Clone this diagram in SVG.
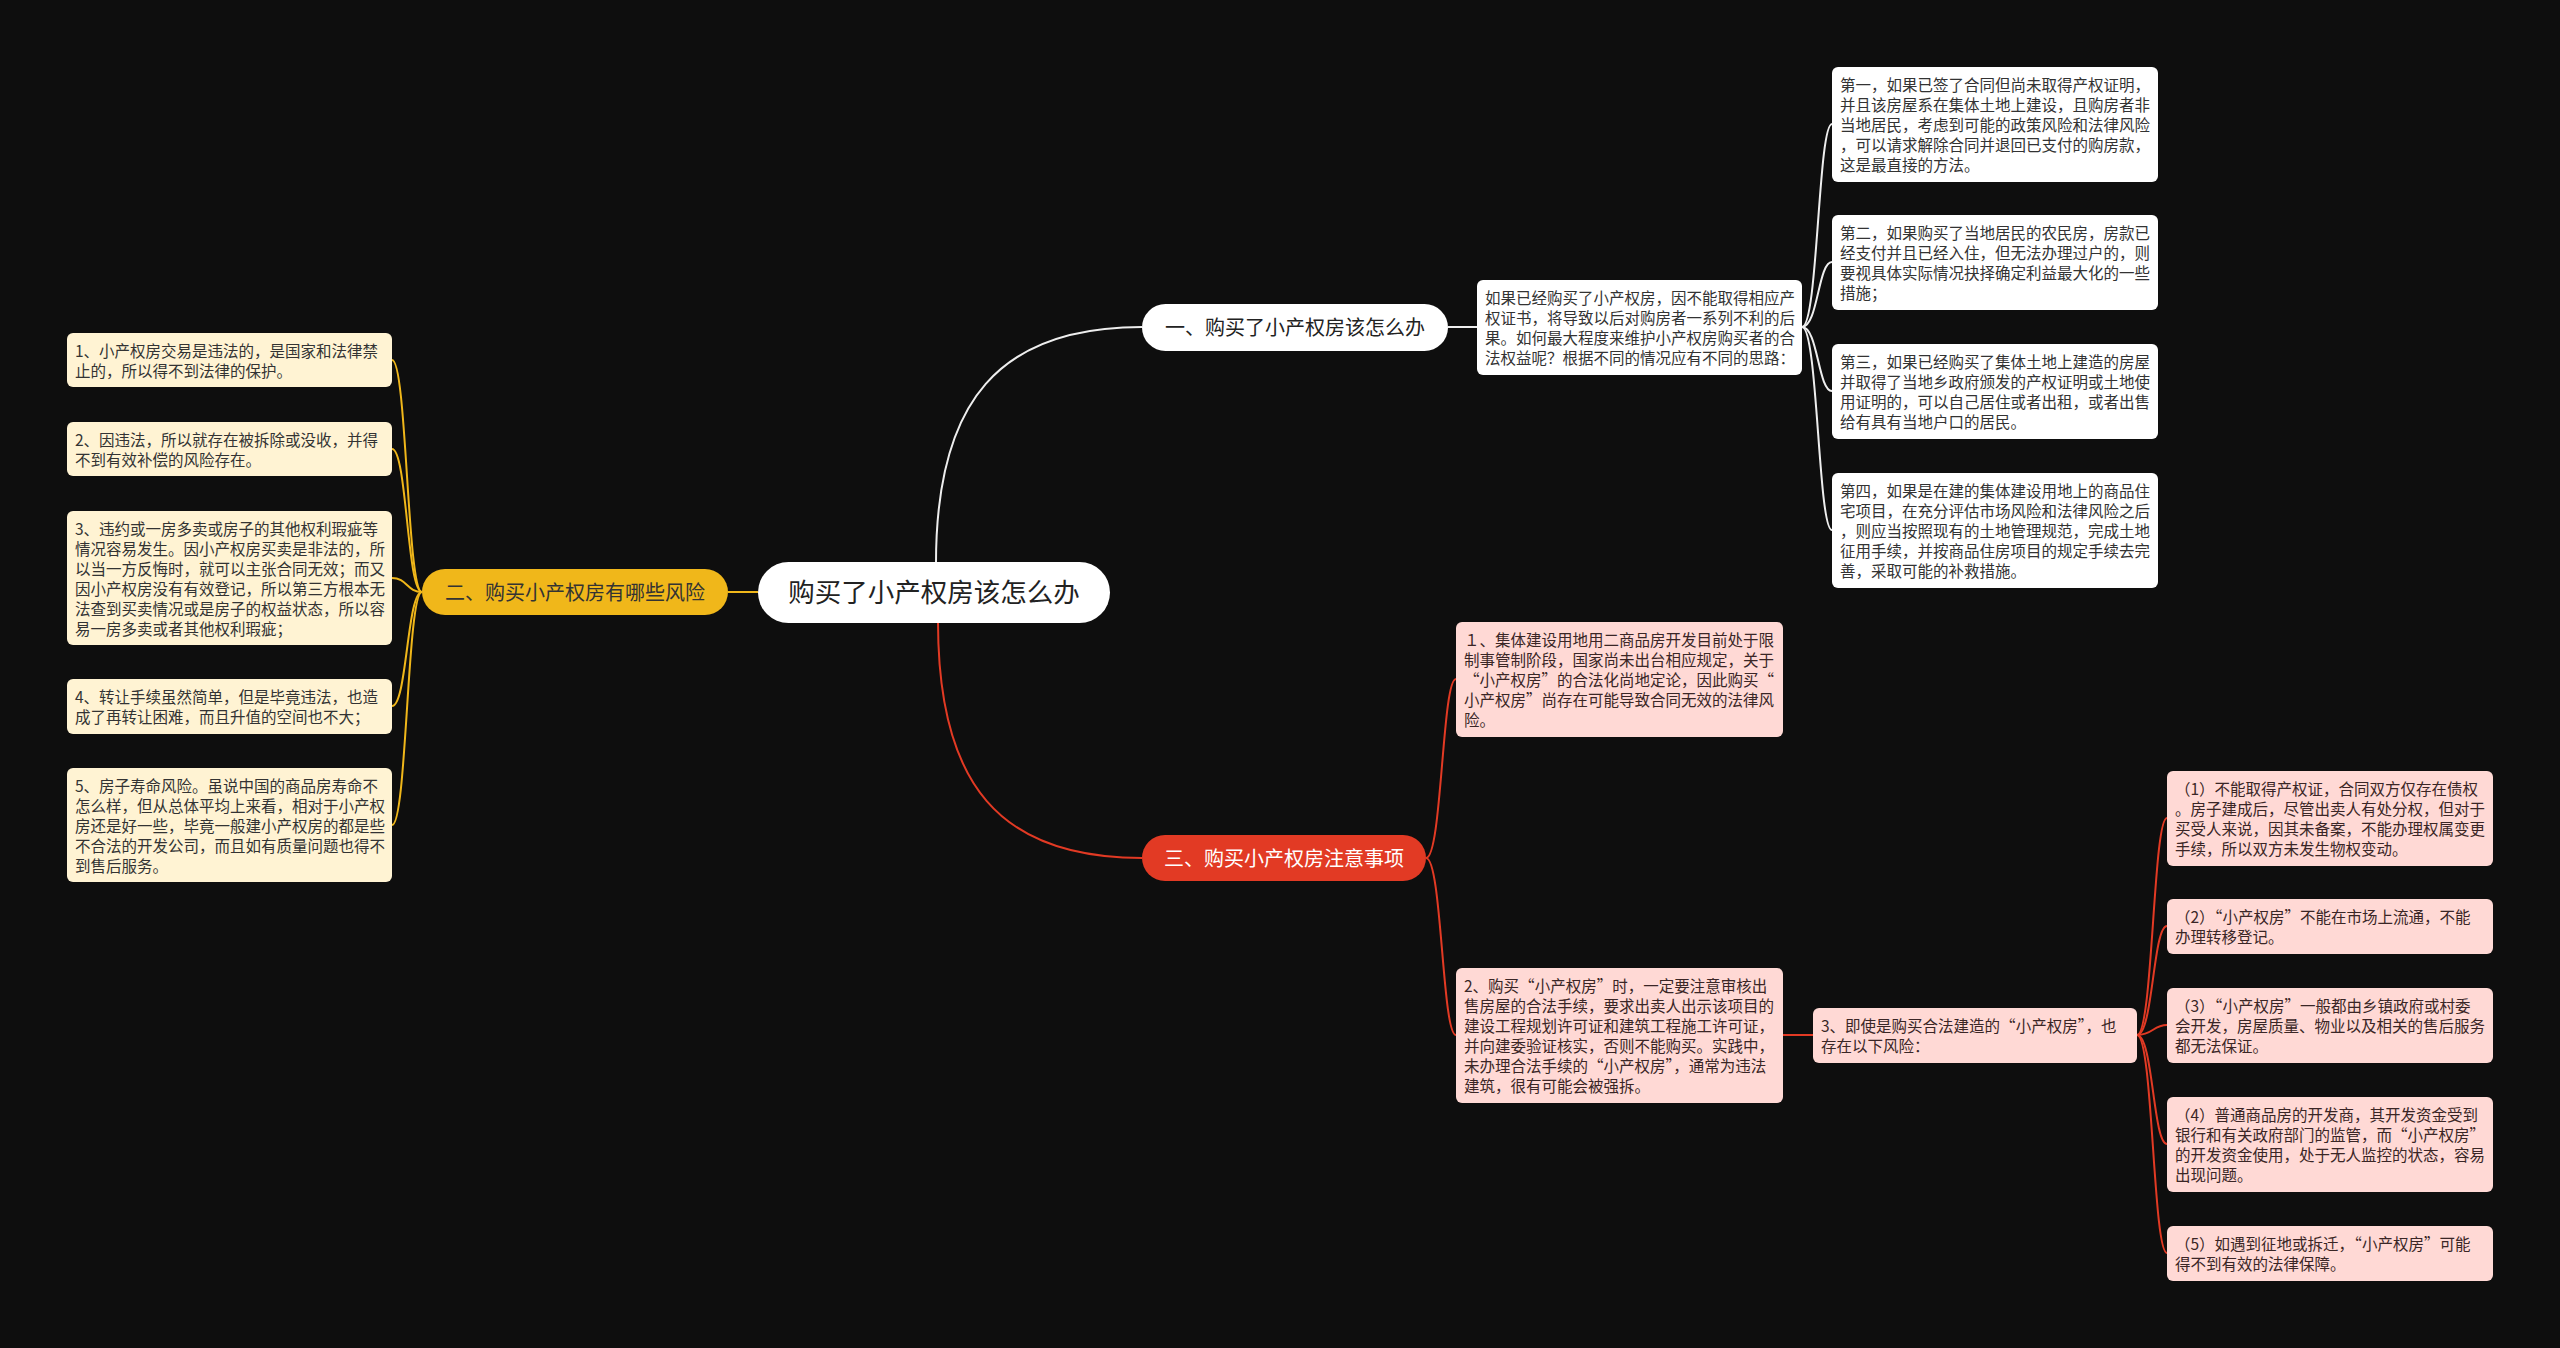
<svg xmlns="http://www.w3.org/2000/svg" width="2560" height="1348" viewBox="0 0 2560 1348" lang="zh-CN">
<style>
text{font-family:"Noto Sans CJK SC","Noto Sans",sans-serif;}
.t{font-size:15.5px;fill:#333333;}
.tp{font-size:15.5px;fill:#3a2626;}
.q{font-feature-settings:"fwid" 1;}
.bw{fill:#ffffff;}
.by{fill:#fff3d3;}
.bp{fill:#ffd9d5;}
.ew{fill:none;stroke:#eeeeee;stroke-width:2;}
.ey{fill:none;stroke:#f0b71a;stroke-width:2;}
.er{fill:none;stroke:#e23a24;stroke-width:2;}
</style>
<rect x="0" y="0" width="2560" height="1348" fill="#0e0e0e"/>
<g id="connectors">
<path class="ew" d="M936 563 C936 400 1000 327 1142 327"/>
<path class="er" d="M938 622 C938 785 1000 858 1142 858"/>
<path class="ey" d="M758 592 L728 592"/>
<path class="ew" d="M1448 327 L1477 327"/>
<path class="ew" d="M1802 327 C1818 327 1818 124 1832 124"/>
<path class="ew" d="M1802 327 C1818 327 1818 262 1832 262"/>
<path class="ew" d="M1802 327 C1818 327 1818 391 1832 391"/>
<path class="ew" d="M1802 327 C1818 327 1818 530 1832 530"/>
<path class="ey" d="M422 592 C407 592 407 360 392 360"/>
<path class="ey" d="M422 592 C407 592 407 449 392 449"/>
<path class="ey" d="M422 592 C407 592 407 578 392 578"/>
<path class="ey" d="M422 592 C407 592 407 706 392 706"/>
<path class="ey" d="M422 592 C407 592 407 825 392 825"/>
<path class="er" d="M1426 858 C1442 858 1442 679 1456 679"/>
<path class="er" d="M1426 858 C1442 858 1442 1035 1456 1035"/>
<path class="er" d="M1783 1035 L1813 1035"/>
<path class="er" d="M2137 1035 C2153 1035 2153 818 2167 818"/>
<path class="er" d="M2137 1035 C2153 1035 2153 926 2167 926"/>
<path class="er" d="M2137 1035 C2153 1035 2153 1025 2167 1025"/>
<path class="er" d="M2137 1035 C2153 1035 2153 1144 2167 1144"/>
<path class="er" d="M2137 1035 C2153 1035 2153 1253 2167 1253"/>
</g>
<g id="root">
<rect x="758" y="562" width="352" height="61" rx="30.5" fill="#ffffff"/>
<text x="934" y="602" font-size="26.5" fill="#222222" text-anchor="middle">购买了小产权房该怎么办</text>
</g>
<g id="branch1">
<rect x="1142" y="304" width="306" height="47" rx="23.5" fill="#ffffff"/>
<text x="1295" y="334.5" font-size="20" fill="#222222" text-anchor="middle">一、购买了小产权房该怎么办</text>
</g>
<g id="branch2">
<rect x="422" y="569" width="306" height="46" rx="23" fill="#f0b71a"/>
<text x="575" y="599.5" font-size="20" fill="#333333" text-anchor="middle">二、购买小产权房有哪些风险</text>
</g>
<g id="branch3">
<rect x="1142" y="835" width="284" height="46" rx="23" fill="#e23a24"/>
<text x="1284" y="865.5" font-size="20" fill="#ffffff" text-anchor="middle">三、购买小产权房注意事项</text>
</g>
<g id="intro">
<rect class="bw" x="1477" y="280" width="325" height="95" rx="6"/>
<text class="t" x="1485" y="304"><tspan x="1485">如果已经购买了小产权房，因不能取得相应产</tspan><tspan x="1485" dy="20">权证书，将导致以后对购房者一系列不利的后</tspan><tspan x="1485" dy="20">果。如何最大程度来维护小产权房购买者的合</tspan><tspan x="1485" dy="20">法权益呢？根据不同的情况应有不同的思路：</tspan></text>
</g>
<g id="w1">
<rect class="bw" x="1832" y="67" width="326" height="115" rx="6"/>
<text class="t" x="1840" y="91"><tspan x="1840">第一，如果已签了合同但尚未取得产权证明，</tspan><tspan x="1840" dy="20">并且该房屋系在集体土地上建设，且购房者非</tspan><tspan x="1840" dy="20">当地居民，考虑到可能的政策风险和法律风险</tspan><tspan x="1840" dy="20">，可以请求解除合同并退回已支付的购房款，</tspan><tspan x="1840" dy="20">这是最直接的方法。</tspan></text>
</g>
<g id="w2">
<rect class="bw" x="1832" y="215" width="326" height="95" rx="6"/>
<text class="t" x="1840" y="239"><tspan x="1840">第二，如果购买了当地居民的农民房，房款已</tspan><tspan x="1840" dy="20">经支付并且已经入住，但无法办理过户的，则</tspan><tspan x="1840" dy="20">要视具体实际情况抉择确定利益最大化的一些</tspan><tspan x="1840" dy="20">措施；</tspan></text>
</g>
<g id="w3">
<rect class="bw" x="1832" y="344" width="326" height="95" rx="6"/>
<text class="t" x="1840" y="368"><tspan x="1840">第三，如果已经购买了集体土地上建造的房屋</tspan><tspan x="1840" dy="20">并取得了当地乡政府颁发的产权证明或土地使</tspan><tspan x="1840" dy="20">用证明的，可以自己居住或者出租，或者出售</tspan><tspan x="1840" dy="20">给有具有当地户口的居民。</tspan></text>
</g>
<g id="w4">
<rect class="bw" x="1832" y="473" width="326" height="115" rx="6"/>
<text class="t" x="1840" y="497"><tspan x="1840">第四，如果是在建的集体建设用地上的商品住</tspan><tspan x="1840" dy="20">宅项目，在充分评估市场风险和法律风险之后</tspan><tspan x="1840" dy="20">，则应当按照现有的土地管理规范，完成土地</tspan><tspan x="1840" dy="20">征用手续，并按商品住房项目的规定手续去完</tspan><tspan x="1840" dy="20">善，采取可能的补救措施。</tspan></text>
</g>
<g id="y1">
<rect class="by" x="67" y="333" width="325" height="54" rx="6"/>
<text class="t" x="75" y="357"><tspan x="75">1、小产权房交易是违法的，是国家和法律禁</tspan><tspan x="75" dy="20">止的，所以得不到法律的保护。</tspan></text>
</g>
<g id="y2">
<rect class="by" x="67" y="422" width="325" height="54" rx="6"/>
<text class="t" x="75" y="446"><tspan x="75">2、因违法，所以就存在被拆除或没收，并得</tspan><tspan x="75" dy="20">不到有效补偿的风险存在。</tspan></text>
</g>
<g id="y3">
<rect class="by" x="67" y="511" width="325" height="134" rx="6"/>
<text class="t" x="75" y="535"><tspan x="75">3、违约或一房多卖或房子的其他权利瑕疵等</tspan><tspan x="75" dy="20">情况容易发生。因小产权房买卖是非法的，所</tspan><tspan x="75" dy="20">以当一方反悔时，就可以主张合同无效；而又</tspan><tspan x="75" dy="20">因小产权房没有有效登记，所以第三方根本无</tspan><tspan x="75" dy="20">法查到买卖情况或是房子的权益状态，所以容</tspan><tspan x="75" dy="20">易一房多卖或者其他权利瑕疵；</tspan></text>
</g>
<g id="y4">
<rect class="by" x="67" y="679" width="325" height="55" rx="6"/>
<text class="t" x="75" y="703"><tspan x="75">4、转让手续虽然简单，但是毕竟违法，也造</tspan><tspan x="75" dy="20">成了再转让困难，而且升值的空间也不大；</tspan></text>
</g>
<g id="y5">
<rect class="by" x="67" y="768" width="325" height="114" rx="6"/>
<text class="t" x="75" y="792"><tspan x="75">5、房子寿命风险。虽说中国的商品房寿命不</tspan><tspan x="75" dy="20">怎么样，但从总体平均上来看，相对于小产权</tspan><tspan x="75" dy="20">房还是好一些，毕竟一般建小产权房的都是些</tspan><tspan x="75" dy="20">不合法的开发公司，而且如有质量问题也得不</tspan><tspan x="75" dy="20">到售后服务。</tspan></text>
</g>
<g id="r1">
<rect class="bp" x="1456" y="622" width="327" height="115" rx="6"/>
<text class="tp q" x="1464" y="646"><tspan x="1464">1、集体建设用地用二商品房开发目前处于限</tspan><tspan x="1464" dy="20">制事管制阶段，国家尚未出台相应规定，关于</tspan><tspan x="1464" dy="20">“小产权房”的合法化尚地定论，因此购买“</tspan><tspan x="1464" dy="20">小产权房”尚存在可能导致合同无效的法律风</tspan><tspan x="1464" dy="20">险。</tspan></text>
</g>
<g id="r2">
<rect class="bp" x="1456" y="968" width="327" height="135" rx="6"/>
<text class="tp" x="1464" y="992"><tspan x="1464">2、购买<tspan class="q">“</tspan>小产权房<tspan class="q">”</tspan>时，一定要注意审核出</tspan><tspan x="1464" dy="20">售房屋的合法手续，要求出卖人出示该项目的</tspan><tspan x="1464" dy="20">建设工程规划许可证和建筑工程施工许可证，</tspan><tspan x="1464" dy="20">并向建委验证核实，否则不能购买。实践中，</tspan><tspan x="1464" dy="20">未办理合法手续的<tspan class="q">“</tspan>小产权房<tspan class="q">”</tspan>，通常为违法</tspan><tspan x="1464" dy="20">建筑，很有可能会被强拆。</tspan></text>
</g>
<g id="r3">
<rect class="bp" x="1813" y="1008" width="324" height="55" rx="6"/>
<text class="tp" x="1821" y="1032"><tspan x="1821">3、即使是购买合法建造的<tspan class="q">“</tspan>小产权房<tspan class="q">”</tspan>，也</tspan><tspan x="1821" dy="20">存在以下风险：</tspan></text>
</g>
<g id="r3a">
<rect class="bp" x="2167" y="771" width="326" height="95" rx="6"/>
<text class="tp" x="2175" y="795"><tspan x="2175">（1）不能取得产权证，合同双方仅存在债权</tspan><tspan x="2175" dy="20">。房子建成后，尽管出卖人有处分权，但对于</tspan><tspan x="2175" dy="20">买受人来说，因其未备案，不能办理权属变更</tspan><tspan x="2175" dy="20">手续，所以双方未发生物权变动。</tspan></text>
</g>
<g id="r3b">
<rect class="bp" x="2167" y="899" width="326" height="55" rx="6"/>
<text class="tp" x="2175" y="923"><tspan x="2175">（2）<tspan class="q">“</tspan>小产权房<tspan class="q">”</tspan>不能在市场上流通，不能</tspan><tspan x="2175" dy="20">办理转移登记。</tspan></text>
</g>
<g id="r3c">
<rect class="bp" x="2167" y="988" width="326" height="75" rx="6"/>
<text class="tp" x="2175" y="1012"><tspan x="2175">（3）<tspan class="q">“</tspan>小产权房<tspan class="q">”</tspan>一般都由乡镇政府或村委</tspan><tspan x="2175" dy="20">会开发，房屋质量、物业以及相关的售后服务</tspan><tspan x="2175" dy="20">都无法保证。</tspan></text>
</g>
<g id="r3d">
<rect class="bp" x="2167" y="1097" width="326" height="95" rx="6"/>
<text class="tp" x="2175" y="1121"><tspan x="2175">（4）普通商品房的开发商，其开发资金受到</tspan><tspan x="2175" dy="20">银行和有关政府部门的监管，而<tspan class="q">“</tspan>小产权房<tspan class="q">”</tspan></tspan><tspan x="2175" dy="20">的开发资金使用，处于无人监控的状态，容易</tspan><tspan x="2175" dy="20">出现问题。</tspan></text>
</g>
<g id="r3e">
<rect class="bp" x="2167" y="1226" width="326" height="55" rx="6"/>
<text class="tp" x="2175" y="1250"><tspan x="2175">（5）如遇到征地或拆迁，<tspan class="q">“</tspan>小产权房<tspan class="q">”</tspan>可能</tspan><tspan x="2175" dy="20">得不到有效的法律保障。</tspan></text>
</g>
</svg>
